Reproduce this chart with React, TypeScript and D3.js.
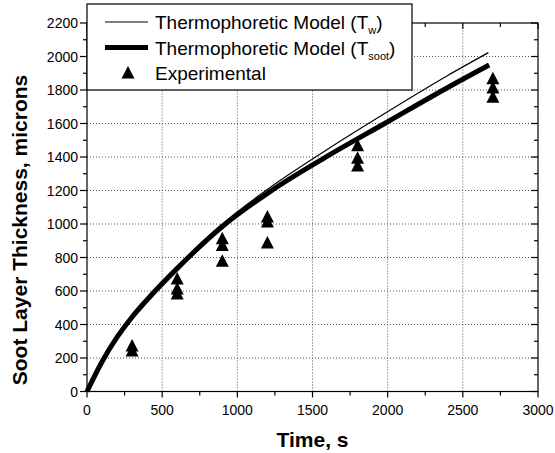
import React from "react";
import * as d3 from "d3";

// Model curve: wall temperature (thin line)
const timeTw = [0, 100, 200, 300, 400, 600, 900, 1220, 1580, 1980, 2400, 2670];
const thicknessTw = [0, 178, 325, 447, 553, 745, 1000, 1220, 1435, 1660, 1887, 2023];

// Model curve: soot temperature (thick line)
const timeSoot = [0, 100, 200, 300, 400, 600, 900, 1220, 1580, 1980, 2400, 2675];
const thicknessSoot = [0, 178, 324, 445, 548, 735, 985, 1195, 1395, 1600, 1815, 1949];

// Experimental points
const expTime = [300, 300, 600, 600, 600, 900, 900, 900, 1200, 1200, 1200, 1800, 1800, 1800, 2700, 2700, 2700];
const expThickness = [245, 275, 585, 615, 675, 780, 875, 915, 890, 1015, 1045, 1350, 1395, 1470, 1760, 1815, 1870];

const xTicks = [0, 500, 1000, 1500, 2000, 2500, 3000];
const yTicks = [0, 200, 400, 600, 800, 1000, 1200, 1400, 1600, 1800, 2000, 2200];

const FONT = "Arial, 'Liberation Sans', Helvetica, sans-serif";

export default function App() {
  const W = 555, H = 453;
  const x = d3.scaleLinear().domain([0, 3000]).range([87, 538]);
  const y = d3.scaleLinear().domain([0, 2200]).range([391.5, 23]);
  const [x0, x1] = x.range();
  const [y0, y1] = y.range();

  const xMinor = d3.range(0, 3001, 250);
  const yMinor = d3.range(0, 2201, 100);

  const line = d3
    .line<[number, number]>()
    .x((d) => x(d[0]))
    .y((d) => y(d[1]))
    .curve(d3.curveMonotoneX);

  const twPath = line(timeTw.map((t, i) => [t, thicknessTw[i]]) as [number, number][]) || "";
  const sootPath = line(timeSoot.map((t, i) => [t, thicknessSoot[i]]) as [number, number][]) || "";

  const tri = "M0,-6.5L6.5,6L-6.5,6Z";

  const isMajorX = (v: number) => v % 500 === 0;
  const isMajorY = (v: number) => v % 200 === 0;

  return (
    <svg
      width={W}
      height={H}
      style={{ position: "absolute", left: 0, top: 0, background: "#fff" }}
      fontFamily={FONT}
    >
      <rect x={0} y={0} width={W} height={H} fill="#fff" />
      {/* grid */}
      <g stroke="#555" strokeWidth={1} strokeDasharray="1,2">
        {xTicks.filter((v) => v > 0 && v < 3000).map((v) => (
          <line key={"gx" + v} x1={x(v)} x2={x(v)} y1={y0} y2={y1} />
        ))}
        {yTicks.filter((v) => v > 0 && v < 2200).map((v) => (
          <line key={"gy" + v} x1={x0} x2={x1} y1={y(v)} y2={y(v)} />
        ))}
      </g>

      {/* curves */}
      <path d={twPath} fill="none" stroke="#000" strokeWidth={1.2} />
      <path d={sootPath} fill="none" stroke="#000" strokeWidth={5} />

      {/* experimental */}
      <g fill="#000">
        {expTime.map((t, i) => (
          <path key={"e" + i} d={tri} transform={`translate(${x(t)},${y(expThickness[i])})`} />
        ))}
      </g>

      {/* frame */}
      <rect x={x0} y={y1} width={x1 - x0} height={y0 - y1} fill="none" stroke="#000" strokeWidth={1.2} />

      {/* bottom ticks (outward) and top ticks (inward) */}
      <g stroke="#000" strokeWidth={1.2}>
        {xMinor.map((v) => {
          const L = isMajorX(v) ? 6 : 4;
          return (
            <g key={"xt" + v}>
              <line x1={x(v)} x2={x(v)} y1={y0} y2={y0 + L} />
              <line x1={x(v)} x2={x(v)} y1={y1} y2={y1 + L} />
            </g>
          );
        })}
        {yMinor.map((v) => {
          const L = isMajorY(v) ? 7 : 4;
          return (
            <g key={"yt" + v}>
              <line x1={x0 - L} x2={x0} y1={y(v)} y2={y(v)} />
              <line x1={x1 - L} x2={x1} y1={y(v)} y2={y(v)} />
            </g>
          );
        })}
      </g>

      {/* tick labels */}
      <g fontSize={14} fill="#000">
        {xTicks.map((v) => (
          <text key={"xl" + v} x={x(v)} y={415} textAnchor="middle">
            {v}
          </text>
        ))}
        {yTicks.map((v) => (
          <text key={"yl" + v} x={78} y={y(v) + 5} textAnchor="end">
            {v}
          </text>
        ))}
      </g>

      {/* axis titles */}
      <text x={(x0 + x1) / 2} y={447} textAnchor="middle" fontSize={21} fontWeight="bold">
        Time, s
      </text>
      <text
        transform={`translate(27,230) rotate(-90)`}
        textAnchor="middle"
        fontSize={21}
        fontWeight="bold"
      >
        Soot Layer Thickness, microns
      </text>

      {/* legend */}
      <g>
        <rect x={87} y={4} width={325} height={86} fill="#fff" stroke="#000" strokeWidth={1.2} />
        <line x1={105} x2={148} y1={22} y2={22} stroke="#000" strokeWidth={1.2} />
        <line x1={105} x2={148} y1={47.5} y2={47.5} stroke="#000" strokeWidth={5} />
        <path d={tri} transform="translate(128,72.5)" fill="#000" />
        <g fontSize={19} fill="#000">
          <text x={155} y={29}>
            Thermophoretic Model (T
            <tspan fontSize={11} dy={5}>w</tspan>
            <tspan dy={-5}>)</tspan>
          </text>
          <text x={155} y={54.5}>
            Thermophoretic Model (T
            <tspan fontSize={11} dy={5}>soot</tspan>
            <tspan dy={-5}>)</tspan>
          </text>
          <text x={155} y={79.5}>
            Experimental
          </text>
        </g>
      </g>
    </svg>
  );
}
